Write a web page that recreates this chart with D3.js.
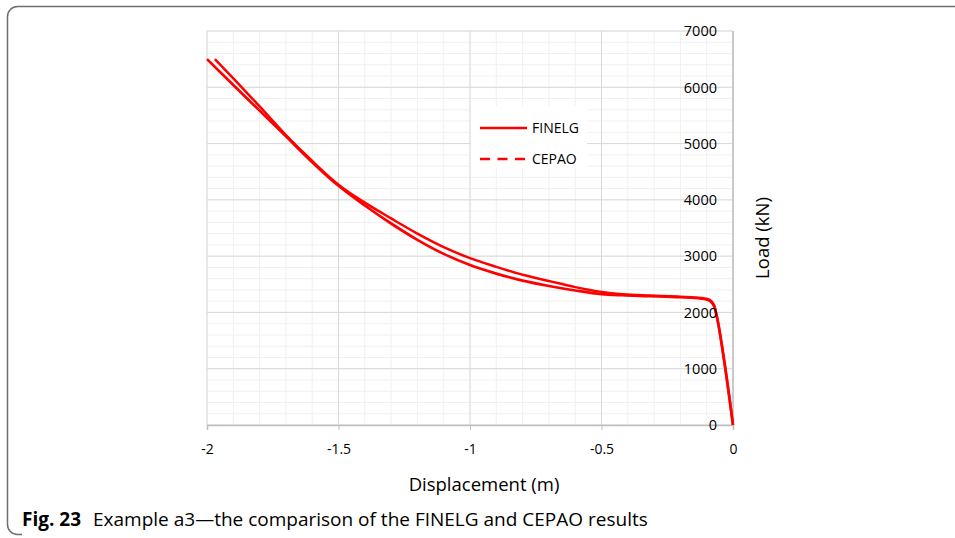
<!DOCTYPE html>
<html>
<head>
<meta charset="utf-8">
<script src="https://cdn.jsdelivr.net/npm/d3@7/dist/d3.min.js"></script>
<style>
  body { margin: 0; background: #fff; }
  svg { display: block; font-family: "Open Sans", "Noto Sans", sans-serif; }
</style>
</head>
<body>
<svg id="chart" width="955" height="538"></svg>
<script>
'use strict';

// data (displacement in m, load in kN)
var fineDisp = [0, -0.030, -0.061, -0.070, -0.080, -0.095, -0.12, -0.20, -0.32, -0.42, -0.50, -0.60, -0.70, -0.80, -0.90, -1.00, -1.10, -1.20, -1.30, -1.40, -1.50, -1.60, -1.70, -1.80, -1.90, -1.97]
var fineLoad = [0, 1030, 1919, 2100, 2190, 2235, 2255, 2280, 2300, 2325, 2365, 2450, 2560, 2670, 2810, 2965, 3160, 3400, 3670, 3950, 4270, 4690, 5150, 5660, 6160, 6500]

var cepaoDisp = [0, -0.030, -0.061, -0.070, -0.080, -0.095, -0.12, -0.20, -0.32, -0.42, -0.50, -0.60, -0.70, -0.80, -0.90, -1.00, -1.10, -1.20, -1.30, -1.40, -1.50, -1.60, -1.70, -1.80, -1.90, -2.00]
var cepaoLoad = [0, 1030, 1919, 2090, 2170, 2220, 2245, 2270, 2290, 2305, 2325, 2390, 2470, 2565, 2690, 2842, 3040, 3290, 3580, 3900, 4250, 4670, 5130, 5585, 6040, 6500]

var xTicks = [-2, -1.5, -1, -0.5, 0]
var yTicks = [0, 1000, 2000, 3000, 4000, 5000, 6000, 7000]

var svg = d3.select('#chart')

// figure frame (rounded, open to the right)
svg.append('path')
    .attr('d', 'M955,6.5 H17.5 A10,10 0 0 0 7.5,16.5 V524.5 A10,10 0 0 0 17.5,534.5 H22')
    .attr('fill', 'none')
    .attr('stroke', '#6e6e6e')
    .attr('stroke-width', 1.5)

var x = d3.scaleLinear().domain([-2, 0]).range([207, 733])
var y = d3.scaleLinear().domain([0, 7000]).range([425, 31])

var grid = svg.append('g')

// minor grid
grid.selectAll('line.vminor')
    .data(d3.range(-2, 0.001, 0.1))
  .enter().append('line')
    .attr('x1', function(d){ return x(d) }).attr('x2', function(d){ return x(d) })
    .attr('y1', y(0)).attr('y2', y(7000))
    .attr('stroke', '#f0f0f0').attr('stroke-width', 1)
grid.selectAll('line.hminor')
    .data(d3.range(0, 7001, 200))
  .enter().append('line')
    .attr('x1', x(-2)).attr('x2', x(0))
    .attr('y1', function(d){ return y(d) }).attr('y2', function(d){ return y(d) })
    .attr('stroke', '#f0f0f0').attr('stroke-width', 1)

// major grid
grid.selectAll('line.vmajor')
    .data(xTicks)
  .enter().append('line')
    .attr('x1', function(d){ return x(d) }).attr('x2', function(d){ return x(d) })
    .attr('y1', y(0)).attr('y2', y(7000))
    .attr('stroke', '#d9d9d9').attr('stroke-width', 1)
grid.selectAll('line.hmajor')
    .data(yTicks)
  .enter().append('line')
    .attr('x1', x(-2)).attr('x2', x(0))
    .attr('y1', function(d){ return y(d) }).attr('y2', function(d){ return y(d) })
    .attr('stroke', '#d9d9d9').attr('stroke-width', 1)

// x axis
var xAxis = d3.axisBottom(x)
    .tickValues(xTicks)
    .tickSize(5)
    .tickPadding(14)
    .tickFormat(function(d){ return String(d) })
var gx = svg.append('g')
    .attr('transform', 'translate(0,' + y(0) + ')')
    .call(xAxis)
gx.select('.domain').attr('stroke', '#bfbfbf').attr('stroke-width', 1.5)
gx.selectAll('.tick line').attr('stroke', '#bfbfbf')
gx.selectAll('.tick text')
    .attr('font-family', '"Open Sans", sans-serif')
    .attr('font-size', 14)
    .attr('fill', '#000')

// y axis line on the right, labels drawn on the left of it
svg.append('line')
    .attr('x1', x(0)).attr('x2', x(0))
    .attr('y1', y(0)).attr('y2', y(7000))
    .attr('stroke', '#bfbfbf').attr('stroke-width', 1.5)

// curves
var line = d3.line()
    .x(function(d){ return x(d[0]) })
    .y(function(d){ return y(d[1]) })
    .curve(d3.curveMonotoneX)

var cepao = cepaoDisp.map(function(d, i){ return [d, cepaoLoad[i]] }).reverse()
var fine = fineDisp.map(function(d, i){ return [d, fineLoad[i]] }).reverse()

svg.append('path')
    .datum(cepao)
    .attr('d', line)
    .attr('fill', 'none')
    .attr('stroke', '#ff0000')
    .attr('stroke-width', 2.7)
    .attr('stroke-linejoin', 'round')

svg.append('path')
    .datum(fine)
    .attr('d', line)
    .attr('fill', 'none')
    .attr('stroke', '#ff0000')
    .attr('stroke-width', 2.5)
    .attr('stroke-linejoin', 'round')

svg.append('g').selectAll('text')
    .data(yTicks)
  .enter().append('text')
    .attr('x', x(0) - 16)
    .attr('y', function(d){ return y(d) })
    .attr('dy', '0.36em')
    .attr('text-anchor', 'end')
    .attr('font-size', 14.5)
    .attr('fill', '#000')
    .text(function(d){ return d })

// legend
var legend = svg.append('g')
legend.append('rect')
    .attr('x', 471).attr('y', 106).attr('width', 116).attr('height', 62)
    .attr('fill', '#fff')
var legendItems = [
  {name: 'FINELG', dash: null},
  {name: 'CEPAO', dash: '10,7.5'}
]
legendItems.forEach(function(item, i){
  var ly = 128 + i * 31
  legend.append('line')
      .attr('x1', 480).attr('x2', 527)
      .attr('y1', ly).attr('y2', ly)
      .attr('stroke', '#ff0000')
      .attr('stroke-width', 2.5)
      .attr('stroke-dasharray', item.dash)
  legend.append('text')
      .attr('x', 532).attr('y', ly)
      .attr('dy', '0.36em')
      .attr('font-size', 14)
      .attr('fill', '#000')
      .text(item.name)
})

// axis titles
svg.append('text')
    .attr('x', 484).attr('y', 485)
    .attr('dy', '0.35em')
    .attr('text-anchor', 'middle')
    .attr('font-size', 18.5)
    .text('Displacement (m)')

svg.append('text')
    .attr('transform', 'translate(763,238) rotate(-90)')
    .attr('dy', '0.35em')
    .attr('text-anchor', 'middle')
    .attr('font-size', 18.5)
    .text('Load (kN)')

// caption
var cap = svg.append('text')
    .attr('x', 22).attr('y', 519)
    .attr('dy', '0.35em')
    .attr('font-size', 19)
    .attr('fill', '#000')
cap.append('tspan').attr('font-weight', 'bold').text('Fig. 23')
cap.append('tspan').attr('dx', 12).text('Example a3—the comparison of the FINELG and CEPAO results')
</script>
</body>
</html>
